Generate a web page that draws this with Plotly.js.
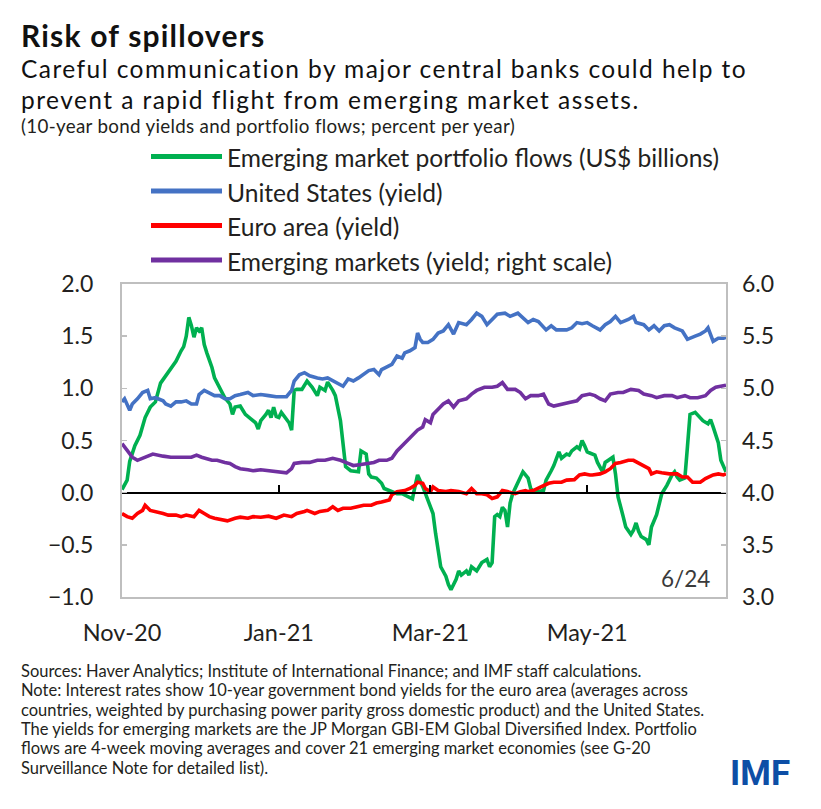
<!DOCTYPE html>
<html>
<head>
<meta charset="utf-8">
<script src="https://cdn.plot.ly/plotly-3.0.1.min.js"></script>
<style>
  html, body { margin: 0; padding: 0; background: #ffffff; }
  #chart { width: 821px; height: 809px; }
</style>
</head>
<body>
<div id="chart"></div>
<script>
// ---- Series: emerging market portfolio flows (US$ billions, left scale) ----
const flowDates = [
  '2020-11-01','2020-11-03','2020-11-04','2020-11-06','2020-11-08','2020-11-10','2020-11-12','2020-11-14',
  '2020-11-16','2020-11-18','2020-11-20','2020-11-22','2020-11-24','2020-11-25','2020-11-26','2020-11-27',
  '2020-11-28','2020-11-29','2020-11-30','2020-12-01','2020-12-02','2020-12-03','2020-12-04','2020-12-06',
  '2020-12-07','2020-12-09','2020-12-11','2020-12-13','2020-12-14','2020-12-15','2020-12-17','2020-12-18',
  '2020-12-19','2020-12-21','2020-12-23','2020-12-24','2020-12-25','2020-12-27','2020-12-28','2020-12-29',
  '2020-12-30','2020-12-31','2021-01-01','2021-01-02','2021-01-04','2021-01-05','2021-01-06','2021-01-07',
  '2021-01-08','2021-01-10','2021-01-12','2021-01-14','2021-01-16','2021-01-17','2021-01-19','2021-01-20',
  '2021-01-22','2021-01-23','2021-01-25','2021-01-26','2021-01-27','2021-01-29','2021-02-01','2021-02-02',
  '2021-02-04','2021-02-05','2021-02-06','2021-02-08','2021-02-10','2021-02-11','2021-02-13','2021-02-16',
  '2021-02-18','2021-02-20','2021-02-22','2021-02-23','2021-02-24','2021-02-26','2021-02-27','2021-02-28',
  '2021-03-02','2021-03-03','2021-03-04','2021-03-05','2021-03-07','2021-03-08','2021-03-09','2021-03-11',
  '2021-03-12','2021-03-13','2021-03-15','2021-03-16','2021-03-17','2021-03-19','2021-03-20','2021-03-21',
  '2021-03-23','2021-03-24','2021-03-25','2021-03-26','2021-03-27','2021-03-28','2021-03-29','2021-03-30',
  '2021-03-31','2021-04-01','2021-04-02','2021-04-04','2021-04-05','2021-04-06','2021-04-08','2021-04-09',
  '2021-04-10','2021-04-12','2021-04-14','2021-04-15','2021-04-17','2021-04-18','2021-04-20','2021-04-21',
  '2021-04-23','2021-04-24','2021-04-25','2021-04-27','2021-04-28','2021-04-29','2021-04-30','2021-05-01',
  '2021-05-02','2021-05-04','2021-05-05','2021-05-07','2021-05-08','2021-05-09','2021-05-11','2021-05-12',
  '2021-05-13','2021-05-15','2021-05-16','2021-05-18','2021-05-19','2021-05-20','2021-05-21','2021-05-22',
  '2021-05-24','2021-05-25','2021-05-26','2021-05-28','2021-05-29','2021-05-30','2021-06-01','2021-06-02',
  '2021-06-03','2021-06-04','2021-06-05','2021-06-06','2021-06-08','2021-06-09','2021-06-10','2021-06-12',
  '2021-06-13','2021-06-14','2021-06-15','2021-06-17','2021-06-18','2021-06-19','2021-06-20','2021-06-21',
  '2021-06-22','2021-06-23','2021-06-24'
];
const flowValues = [
  0.03, 0.12, 0.30, 0.45, 0.55, 0.72, 0.82, 0.87,
  1.05, 1.12, 1.20, 1.26, 1.36, 1.40, 1.50, 1.68,
  1.60, 1.49, 1.58, 1.55, 1.58, 1.42, 1.34, 1.20,
  1.10, 1.01, 0.91, 0.85, 0.75, 0.82, 0.83, 0.79,
  0.75, 0.71, 0.67, 0.61, 0.69, 0.75, 0.79, 0.72,
  0.82, 0.73, 0.72, 0.77, 0.70, 0.67, 0.60, 0.98,
  0.99, 0.99, 1.07, 1.01, 0.93, 1.01, 0.98, 1.06,
  0.98, 0.93, 0.69, 0.47, 0.25, 0.21, 0.20, 0.40,
  0.37, 0.18, 0.15, 0.14, 0.09, 0.04, 0.02, -0.01,
  -0.01, -0.04, -0.06, 0.06, 0.17, 0.06, -0.01, -0.07,
  -0.20, -0.39, -0.58, -0.71, -0.80, -0.88, -0.93, -0.83,
  -0.75, -0.79, -0.75, -0.79, -0.71, -0.75, -0.71, -0.67,
  -0.64, -0.71, -0.67, -0.23, -0.21, -0.23, -0.14, -0.17,
  -0.33, -0.10, -0.01, 0.09, 0.15, 0.20, 0.14, 0.04,
  0.01, 0.01, 0.02, 0.12, 0.21, 0.26, 0.39, 0.33,
  0.37, 0.36, 0.40, 0.44, 0.42, 0.50, 0.45, 0.39,
  0.38, 0.36, 0.29, 0.20, 0.29, 0.31, 0.34, 0.18,
  -0.04, -0.23, -0.33, -0.40, -0.36, -0.29, -0.37, -0.42,
  -0.45, -0.50, -0.33, -0.21, -0.10, -0.01, 0.07, 0.12,
  0.17, 0.20, 0.15, 0.12, 0.14, 0.44, 0.75, 0.77,
  0.74, 0.72, 0.69, 0.66, 0.70, 0.63, 0.56, 0.48,
  0.31, 0.26, 0.20
];

// ---- Series: United States 10-year yield (percent, left scale) ----
const usDates = [
  '2020-11-01','2020-11-02','2020-11-04','2020-11-05','2020-11-07','2020-11-09','2020-11-11','2020-11-12',
  '2020-11-14','2020-11-17','2020-11-18','2020-11-20','2020-11-22','2020-11-24','2020-11-26','2020-11-28',
  '2020-11-30','2020-12-01','2020-12-03','2020-12-06','2020-12-07','2020-12-09','2020-12-11','2020-12-13',
  '2020-12-15','2020-12-17','2020-12-20','2020-12-22','2020-12-25','2020-12-28','2020-12-31','2021-01-04',
  '2021-01-06','2021-01-07','2021-01-09','2021-01-11','2021-01-13','2021-01-16','2021-01-18','2021-01-20',
  '2021-01-22','2021-01-24','2021-01-26','2021-01-28','2021-01-30','2021-02-01','2021-02-03','2021-02-05',
  '2021-02-07','2021-02-09','2021-02-10','2021-02-12','2021-02-14','2021-02-16','2021-02-18','2021-02-19',
  '2021-02-21','2021-02-23','2021-02-24','2021-02-25','2021-02-26','2021-02-28','2021-03-02','2021-03-04',
  '2021-03-06','2021-03-08','2021-03-10','2021-03-12','2021-03-15','2021-03-17','2021-03-19','2021-03-21',
  '2021-03-23','2021-03-25','2021-03-27','2021-03-30','2021-04-01','2021-04-04','2021-04-06','2021-04-08',
  '2021-04-10','2021-04-12','2021-04-15','2021-04-17','2021-04-19','2021-04-23','2021-04-25','2021-04-27',
  '2021-04-29','2021-05-01','2021-05-03','2021-05-06','2021-05-08','2021-05-10','2021-05-12','2021-05-14',
  '2021-05-17','2021-05-19','2021-05-20','2021-05-23','2021-05-25','2021-05-27','2021-05-29','2021-05-31',
  '2021-06-02','2021-06-04','2021-06-07','2021-06-09','2021-06-12','2021-06-14','2021-06-16','2021-06-17',
  '2021-06-19','2021-06-21','2021-06-23','2021-06-24'
];
const usValues = [
  0.87, 0.90, 0.79, 0.85, 0.90, 0.96, 0.98, 0.90,
  0.91, 0.88, 0.85, 0.83, 0.87, 0.87, 0.88, 0.85,
  0.85, 0.94, 0.98, 0.94, 0.93, 0.93, 0.90, 0.90,
  0.93, 0.94, 0.96, 0.93, 0.94, 0.93, 0.92, 0.92,
  0.98, 1.07, 1.13, 1.15, 1.12, 1.10, 1.09, 1.10,
  1.07, 1.05, 1.02, 1.09, 1.07, 1.10, 1.13, 1.17,
  1.18, 1.13, 1.18, 1.21, 1.23, 1.31, 1.29, 1.34,
  1.36, 1.39, 1.53, 1.47, 1.44, 1.44, 1.47, 1.53,
  1.55, 1.61, 1.52, 1.63, 1.61, 1.66, 1.72, 1.69,
  1.61, 1.66, 1.71, 1.72, 1.69, 1.72, 1.67, 1.63,
  1.66, 1.64, 1.56, 1.60, 1.56, 1.56, 1.58, 1.63,
  1.62, 1.63, 1.60, 1.56, 1.61, 1.64, 1.69, 1.63,
  1.66, 1.69, 1.63, 1.61, 1.56, 1.60, 1.55, 1.60,
  1.61, 1.58, 1.55, 1.47, 1.50, 1.52, 1.55, 1.58,
  1.45, 1.48, 1.48, 1.49
];

// ---- Series: euro area 10-year yield (percent, left scale) ----
const euroDates = [
  '2020-11-01','2020-11-03','2020-11-05','2020-11-07','2020-11-09','2020-11-10','2020-11-12','2020-11-14',
  '2020-11-17','2020-11-19','2020-11-22','2020-11-24','2020-11-26','2020-11-29','2020-12-01','2020-12-03',
  '2020-12-05','2020-12-07','2020-12-10','2020-12-12','2020-12-15','2020-12-17','2020-12-20','2020-12-22',
  '2020-12-25','2020-12-28','2020-12-31','2021-01-03','2021-01-06','2021-01-08','2021-01-11','2021-01-12',
  '2021-01-15','2021-01-17','2021-01-20','2021-01-22','2021-01-24','2021-01-26','2021-01-29','2021-02-01',
  '2021-02-03','2021-02-06','2021-02-08','2021-02-10','2021-02-13','2021-02-14','2021-02-16','2021-02-19',
  '2021-02-21','2021-02-23','2021-02-24','2021-02-26','2021-02-27','2021-03-01','2021-03-02','2021-03-04',
  '2021-03-07','2021-03-09','2021-03-12','2021-03-15','2021-03-17','2021-03-19','2021-03-21','2021-03-23',
  '2021-03-25','2021-03-27','2021-03-29','2021-03-31','2021-04-03','2021-04-05','2021-04-07','2021-04-08',
  '2021-04-10','2021-04-13','2021-04-16','2021-04-18','2021-04-21','2021-04-23','2021-04-26','2021-04-28',
  '2021-04-30','2021-05-02','2021-05-03','2021-05-06','2021-05-08','2021-05-10','2021-05-12','2021-05-14',
  '2021-05-17','2021-05-19','2021-05-21','2021-05-23','2021-05-25','2021-05-26','2021-05-28','2021-05-30',
  '2021-06-02','2021-06-05','2021-06-07','2021-06-09','2021-06-11','2021-06-14','2021-06-16','2021-06-19',
  '2021-06-21','2021-06-23','2021-06-24'
];
const euroValues = [
  -0.20, -0.23, -0.245, -0.20, -0.17, -0.12, -0.17, -0.18,
  -0.20, -0.215, -0.215, -0.23, -0.215, -0.23, -0.17, -0.20,
  -0.23, -0.245, -0.26, -0.27, -0.245, -0.235, -0.245, -0.23,
  -0.235, -0.225, -0.245, -0.215, -0.23, -0.20, -0.18, -0.17,
  -0.20, -0.18, -0.17, -0.135, -0.17, -0.15, -0.15, -0.13,
  -0.12, -0.12, -0.10, -0.09, -0.07, -0.02, 0.01, 0.02,
  0.04, 0.07, 0.10, 0.09, 0.04, 0.01, 0.055, 0.02,
  0.01, 0.02, 0.01, -0.01, 0.04, -0.01, -0.01, -0.02,
  -0.055, -0.04, 0.02, 0.01, -0.01, 0.01, 0.02, 0.01,
  0.02, 0.055, 0.09, 0.10, 0.10, 0.12, 0.125, 0.17,
  0.18, 0.17, 0.17, 0.18, 0.20, 0.23, 0.28, 0.29,
  0.31, 0.31, 0.28, 0.26, 0.23, 0.18, 0.20, 0.19,
  0.18, 0.18, 0.15, 0.15, 0.10, 0.10, 0.135, 0.17,
  0.18, 0.17, 0.18
];

// ---- Series: emerging markets yield, GBI-EM (percent, right scale) ----
const emDates = [
  '2020-11-01','2020-11-03','2020-11-05','2020-11-07','2020-11-10','2020-11-13','2020-11-17','2020-11-20',
  '2020-11-24','2020-11-28','2020-11-30','2020-12-02','2020-12-06','2020-12-08','2020-12-11','2020-12-13',
  '2020-12-15','2020-12-17','2020-12-20','2020-12-22','2020-12-25','2020-12-28','2021-01-01','2021-01-04',
  '2021-01-06','2021-01-07','2021-01-10','2021-01-13','2021-01-16','2021-01-19','2021-01-22','2021-01-25',
  '2021-01-28','2021-01-30','2021-02-02','2021-02-04','2021-02-07','2021-02-09','2021-02-12','2021-02-14',
  '2021-02-16','2021-02-18','2021-02-20','2021-02-22','2021-02-24','2021-02-26','2021-02-27','2021-03-01',
  '2021-03-02','2021-03-04','2021-03-06','2021-03-08','2021-03-10','2021-03-12','2021-03-15','2021-03-17',
  '2021-03-19','2021-03-22','2021-03-25','2021-03-27','2021-03-29','2021-03-31','2021-04-03','2021-04-05',
  '2021-04-07','2021-04-09','2021-04-12','2021-04-14','2021-04-16','2021-04-18','2021-04-21','2021-04-24',
  '2021-04-27','2021-04-29','2021-05-02','2021-05-04','2021-05-06','2021-05-08','2021-05-10','2021-05-13',
  '2021-05-15','2021-05-18','2021-05-21','2021-05-23','2021-05-26','2021-05-28','2021-05-31','2021-06-03',
  '2021-06-05','2021-06-08','2021-06-10','2021-06-13','2021-06-16','2021-06-18','2021-06-20','2021-06-23',
  '2021-06-24'
];
const emValues = [
  4.47, 4.40, 4.34, 4.31, 4.34, 4.37, 4.35, 4.34,
  4.34, 4.34, 4.36, 4.34, 4.31, 4.31, 4.29, 4.28,
  4.25, 4.23, 4.22, 4.21, 4.22, 4.21, 4.20, 4.19,
  4.23, 4.28, 4.29, 4.29, 4.31, 4.31, 4.33, 4.31,
  4.28, 4.26, 4.27, 4.28, 4.29, 4.31, 4.31, 4.33,
  4.40, 4.45, 4.50, 4.55, 4.60, 4.63, 4.70, 4.67,
  4.75, 4.80, 4.85, 4.88, 4.82, 4.88, 4.90, 4.945,
  4.98, 5.01, 5.01, 5.02, 5.055, 4.99, 4.99, 4.96,
  4.90, 4.93, 4.93, 4.945, 4.85, 4.83, 4.85, 4.865,
  4.88, 4.93, 4.945, 4.93, 4.90, 4.88, 4.945, 4.96,
  4.96, 4.99, 4.98, 4.945, 4.93, 4.91, 4.93, 4.93,
  4.91, 4.93, 4.91, 4.91, 4.93, 4.98, 5.01, 5.02,
  5.03
];

// ---- Labels ----
const seriesNames = [
  'Emerging market portfolio flows (US$ billions)',
  'United States (yield)',
  'Euro area (yield)',
  'Emerging markets (yield; right scale)'
];
const seriesColors = ['#00b050', '#4472c4', '#ff0000', '#7030a0'];
const monthTicks = ['2020-11-01', '2021-01-01', '2021-03-01', '2021-05-01'];
const monthLabels = ['Nov-20', 'Jan-21', 'Mar-21', 'May-21'];
const leftTicks = [-1.0, -0.5, 0.0, 0.5, 1.0, 1.5, 2.0];
const rightTicks = [3.0, 3.5, 4.0, 4.5, 5.0, 5.5, 6.0];
const titleText = 'Risk of spillovers';
const subtitleLines = [
  'Careful communication by major central banks could help to',
  'prevent a rapid flight from emerging market assets.'
];
const unitNote = '(10-year bond yields and portfolio flows; percent per year)';
const lastDateLabel = '6/24';
const footLines = [
  'Sources: Haver Analytics; Institute of International Finance; and IMF staff calculations.',
  'Note: Interest rates show 10-year government bond yields for the euro area (averages across',
  'countries, weighted by purchasing power parity gross domestic product) and the United States.',
  'The yields for emerging markets are the JP Morgan GBI-EM Global Diversified Index. Portfolio',
  'flows are 4-week moving averages and cover 21 emerging market economies (see G-20',
  'Surveillance Note for detailed list).'
];

// ---- Page geometry (pixels) ----
const W = 821, H = 809;
const box = { l: 122, r: 726, t: 284, b: 597 };
const FONT = 'Lato, "Open Sans", sans-serif';
const TEXT = '#231f20';
const px = x => (x - box.l) / (box.r - box.l);   // page x -> paper x
const py = y => (box.b - y) / (box.b - box.t);   // page y -> paper y
const xRange = ['2020-11-01', '2021-06-24'];
// Multi-line text blocks: line pitch follows the block's base size (1.3 em),
// while each line is set at its own size and tracking.
const sized = (t, size, track) => '<span style="font-size:' + size + 'px' +
  (track ? ';letter-spacing:' + track + 'px' : '') + '">' + t + '</span>';

const line = (i, w) => ({ color: seriesColors[i], width: w || 3.6 });

const traces = [
  { x: flowDates, y: flowValues, name: seriesNames[0], type: 'scatter', mode: 'lines',
    line: line(0), xaxis: 'x', yaxis: 'y' },
  { x: usDates, y: usValues, name: seriesNames[1], type: 'scatter', mode: 'lines',
    line: line(1), xaxis: 'x', yaxis: 'y' },
  { x: euroDates, y: euroValues, name: seriesNames[2], type: 'scatter', mode: 'lines',
    line: line(2), xaxis: 'x', yaxis: 'y' },
  { x: emDates, y: emValues, name: seriesNames[3], type: 'scatter', mode: 'lines',
    line: line(3), xaxis: 'x2', yaxis: 'y2' }
];

// Legend: long line swatches with labels above the plot
const legendY = [156.5, 191, 225.5, 260];
const shapes = [];
const annotations = [];
seriesNames.forEach((name, i) => {
  shapes.push({ type: 'line', xref: 'paper', yref: 'paper',
    x0: px(151), x1: px(222), y0: py(legendY[i]), y1: py(legendY[i]),
    line: { color: seriesColors[i], width: 5 } });
  annotations.push({ xref: 'paper', yref: 'paper', x: px(225), y: py(legendY[i] + 1),
    xanchor: 'left', yanchor: 'middle', showarrow: false, text: name,
    font: { family: FONT, size: 24.6, color: TEXT } });
});

// Heading block: bold title over a two-line subtitle
const headingText = [
  '<b>' + sized(titleText, 30, 1.2) + '</b>',
  sized(subtitleLines[0], 24.5, 1.45),
  sized(subtitleLines[1], 24.5, 1.45)
].join('<br>');
annotations.push({ xref: 'paper', yref: 'paper', x: px(19), y: py(14.9), xanchor: 'left',
  yanchor: 'top', align: 'left', showarrow: false, text: headingText,
  font: { family: FONT, size: 23.85, color: '#111111' } });
annotations.push({ xref: 'paper', yref: 'paper', x: px(19), y: py(125.5),
  xanchor: 'left', yanchor: 'middle', showarrow: false, text: sized(unitNote, 18.8, 0.3),
  font: { family: FONT, size: 18.8, color: TEXT } });
annotations.push({ xref: 'paper', yref: 'paper', x: px(712), y: py(578),
  xanchor: 'right', yanchor: 'middle', showarrow: false, text: lastDateLabel,
  font: { family: FONT, size: 22.5, color: '#3a3a3a' } });
// Footnote block
annotations.push({ xref: 'paper', yref: 'paper', x: px(19), y: py(659), xanchor: 'left',
  yanchor: 'top', align: 'left', showarrow: false,
  text: footLines.map(t => sized(t, 16.5)).join('<br>'),
  font: { family: FONT, size: 14.85, color: TEXT } });
annotations.push({ xref: 'paper', yref: 'paper', x: px(792), y: py(773),
  xanchor: 'right', yanchor: 'middle', showarrow: false, text: '<b>IMF</b>',
  font: { family: 'Roboto, "Liberation Sans", sans-serif', size: 35, color: '#0d4ea6' } });

const grey = '#bfbfbf';
const layout = {
  width: W, height: H,
  paper_bgcolor: '#ffffff', plot_bgcolor: '#ffffff',
  margin: { l: box.l, r: W - box.r, t: box.t, b: H - box.b, pad: 0 },
  showlegend: false,
  // Axis drawn along the zero line, with month tick marks
  xaxis: { type: 'date', range: xRange, anchor: 'free', position: 1 / 3,
    showline: true, linecolor: '#000000', linewidth: 2.2,
    ticks: 'inside', ticklen: 7, tickwidth: 2, tickcolor: '#000000',
    tickvals: monthTicks, showticklabels: false, showgrid: false, zeroline: false, fixedrange: true },
  // Bottom axis carrying the month labels and the frame
  xaxis2: { type: 'date', range: xRange, overlaying: 'x', anchor: 'y2', side: 'bottom',
    tickvals: monthTicks, ticktext: monthLabels, ticks: 'outside', ticklen: 14,
    tickcolor: 'rgba(0,0,0,0)', showline: true, mirror: true, linecolor: grey, linewidth: 2,
    showgrid: false, zeroline: false,
    tickfont: { family: FONT, size: 23.5, color: TEXT } },
  yaxis: { range: [-1, 2], tickvals: leftTicks, tickformat: '.1f',
    ticks: 'inside', ticklen: 5, tickcolor: grey, tickwidth: 1.5,
    showline: true, mirror: true, linecolor: grey, linewidth: 2,
    showgrid: false, zeroline: false, ticklabelstandoff: 22,
    tickfont: { family: FONT, size: 23, color: TEXT } },
  yaxis2: { range: [3, 6], tickvals: rightTicks, tickformat: '.1f', overlaying: 'y',
    side: 'right', anchor: 'x2',
    ticks: 'inside', ticklen: 5, tickcolor: grey, tickwidth: 1.5,
    showline: false, showgrid: false, zeroline: false, ticklabelstandoff: 15,
    tickfont: { family: FONT, size: 23, color: TEXT } },
  shapes: shapes,
  annotations: annotations
};

Plotly.newPlot('chart', traces, layout, { staticPlot: true, displayModeBar: false });
</script>
</body>
</html>
